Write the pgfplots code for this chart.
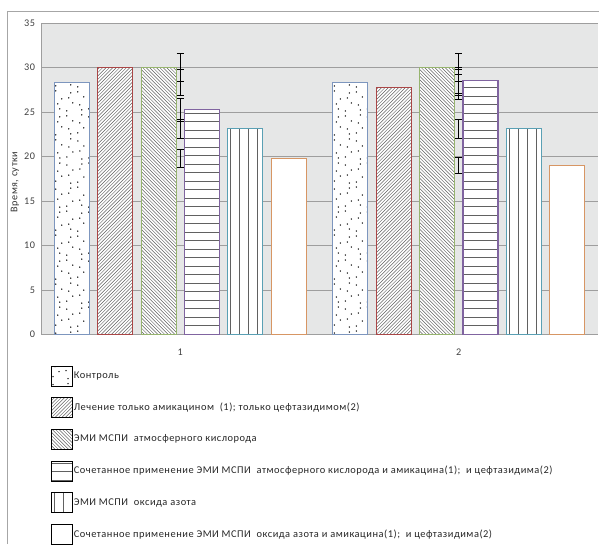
\documentclass[border=0pt]{standalone}
\usepackage{pgfplots}
\pgfplotsset{compat=1.18}
\usepackage{pgfplotstable}
\usepackage{fontspec}
\setmainfont{Carlito}
\newfontfamily\chartfont[LetterSpace=5]{Carlito}

\definecolor{bgc}{RGB}{230,231,231}
\definecolor{cA}{RGB}{125,150,190}
\definecolor{cB}{RGB}{170,70,70}
\definecolor{cC}{RGB}{150,180,110}
\definecolor{cD}{RGB}{128,100,160}
\definecolor{cE}{RGB}{90,160,180}
\definecolor{cF}{RGB}{215,150,100}
\colorlet{hatch}{black!62}

% hatchings drawn inside a single bar (and legend swatch)
\tikzset{
  plain inner/.style={path picture={}, fill=none, draw=none},
  sparse dots/.style={path picture={
    \foreach \r in {0,...,50}{\foreach \c in {0,...,3}{
      \pgfmathsetmacro\dx{mod(\r*\r*3+\r*5+\c*4,8)}
      \pgfmathsetmacro\dy{mod(\c*7+\r*2,3)}
      \fill[plain inner, fill=black] ([xshift={\c*11pt+\dx pt+1.5pt}, yshift={\r*6pt+\dy pt+1.5pt}]path picture bounding box.south west) circle (0.75pt);
    }}}},
  up lines/.style={path picture={
    \foreach \k in {-100,...,12}{
      \draw[plain inner, draw=hatch, line width=0.45pt] ([xshift=\k*3.4pt]path picture bounding box.south west) -- ++(340pt,340pt);}}},
  down lines/.style={path picture={
    \foreach \k in {0,...,112}{
      \draw[plain inner, draw=hatch, line width=0.45pt] ([xshift=\k*3.4pt]path picture bounding box.south west) -- ++(-340pt,340pt);}}},
  across lines/.style={path picture={
    \foreach \k in {0,...,40}{
      \draw[plain inner, draw=hatch, line width=0.9pt] ([yshift=\k*8.5pt+0.5pt]path picture bounding box.south west) -- ++(60pt,0pt);}}},
  upright lines/.style={path picture={
    \foreach \k in {0,...,6}{
      \draw[plain inner, draw=hatch, line width=0.9pt] ([xshift=\k*9pt+3pt]path picture bounding box.south west) -- ++(0pt,340pt);}}},
  % one bar: series slot i of six, 43.4pt apart
  slot/.style={ybar, bar width=35pt, bar shift={(#1-2.5)*43.4pt}, line width=1.1pt, fill=white},
}

% one table per group; y: time in days, e: error, per series A..F
\pgfplotstableread{
x A eA B eB C eC D eD E eE F eF
0 28.3 1.45 30.0 1.6 30.0 1.6 25.25 1.25 23.1 1.1 19.8 1.0
}\gOne
\pgfplotstableread{
x A eA B eB C eC D eD E eE F eF
1 28.3 1.45 27.8 1.4 30.0 1.6 28.55 1.45 23.1 1.1 19.0 0.95
}\gTwo

\begin{document}
\begin{tikzpicture}
\path[use as bounding box] (0pt,0pt) rectangle (599pt,544pt);
\draw[color=black!35, line width=0.8pt] (7pt,0pt) -- (7pt,533pt) -- (599pt,533pt);
\begin{axis}[
  at={(41pt,209.5pt)}, anchor=south west,
  scale only axis, width=557pt, height=311.5pt,
  xmin=-0.5, xmax=1.5, ymin=0, ymax=35,
  xtick={0,1}, xticklabels={1,2},
  ytick={0,5,...,35},
  ymajorgrids, grid style={black!38, line width=0.8pt},
  axis background/.style={fill=bgc},
  axis x line*=bottom, axis y line*=left,
  axis line style={black!38, line width=0.8pt, -},
  major tick length=0pt,
  /pgf/number format/assume math mode=true,
  yticklabel style={font=\chartfont\fontsize{10.2}{12}\selectfont, text=black!75, xshift=-2.5pt},
  xticklabel style={font=\chartfont\fontsize{10.2}{12}\selectfont, text=black!75, yshift=-10.5pt},
  ylabel={Время, сутки},
  ylabel style={at={(axis cs:-0.5934,17.13)}, anchor=center, font=\chartfont\fontsize{10.2}{12}\selectfont, text=black!80},
  legend style={at={(rel axis cs:0,0)}, anchor=north west, xshift=10pt, yshift=-31pt,
    draw=none, fill=none, inner sep=0pt, row sep=11pt,
    nodes={inner sep=1pt}, font=\chartfont\fontsize{10.4}{12}\selectfont, text=black!85},
  legend cell align=left,
  legend image code/.code={\draw[#1, draw=black, line width=0.6pt] (0pt,-10pt) rectangle (21pt,10pt);},
  error bars/y dir=both, error bars/y explicit,
  error bars/error bar style={path picture={}, fill=none, draw=black, line width=0.8pt},
  error bars/error mark options={path picture={}, fill=none, rotate=90, mark size=3.5pt, draw=black, line width=0.8pt},
]
% group 1
\addplot[slot=0, draw=cA, sparse dots] table[x=x, y=A, y error=eA] {\gOne};
\addlegendentry{Контроль}
\addplot[slot=1, draw=cB, up lines] table[x=x, y=B, y error=eB] {\gOne};
\addlegendentry{Лечение только амикацином\ \ (1); только цефтазидимом(2)}
\addplot[slot=2, draw=cC, down lines] table[x=x, y=C, y error=eC] {\gOne};
\addlegendentry{ЭМИ МСПИ\ \ атмосферного кислорода}
\addplot[slot=3, draw=cD, across lines] table[x=x, y=D, y error=eD] {\gOne};
\addlegendentry{Сочетанное применение ЭМИ МСПИ\ \ атмосферного кислорода и амикацина(1);\ \ и цефтазидима(2)}
\addplot[slot=4, draw=cE, upright lines] table[x=x, y=E, y error=eE] {\gOne};
\addlegendentry{ЭМИ МСПИ\ \ оксида азота}
\addplot[slot=5, draw=cF] table[x=x, y=F, y error=eF] {\gOne};
\addlegendentry{Сочетанное применение ЭМИ МСПИ\ \ оксида азота и амикацина(1);\ \ и цефтазидима(2)}
% group 2
\addplot[forget plot, slot=0, draw=cA, sparse dots] table[x=x, y=A, y error=eA] {\gTwo};
\addplot[forget plot, slot=1, draw=cB, up lines] table[x=x, y=B, y error=eB] {\gTwo};
\addplot[forget plot, slot=2, draw=cC, down lines] table[x=x, y=C, y error=eC] {\gTwo};
\addplot[forget plot, slot=3, draw=cD, across lines] table[x=x, y=D, y error=eD] {\gTwo};
\addplot[forget plot, slot=4, draw=cE, upright lines] table[x=x, y=E, y error=eE] {\gTwo};
\addplot[forget plot, slot=5, draw=cF] table[x=x, y=F, y error=eF] {\gTwo};
\end{axis}
\end{tikzpicture}
\end{document}
